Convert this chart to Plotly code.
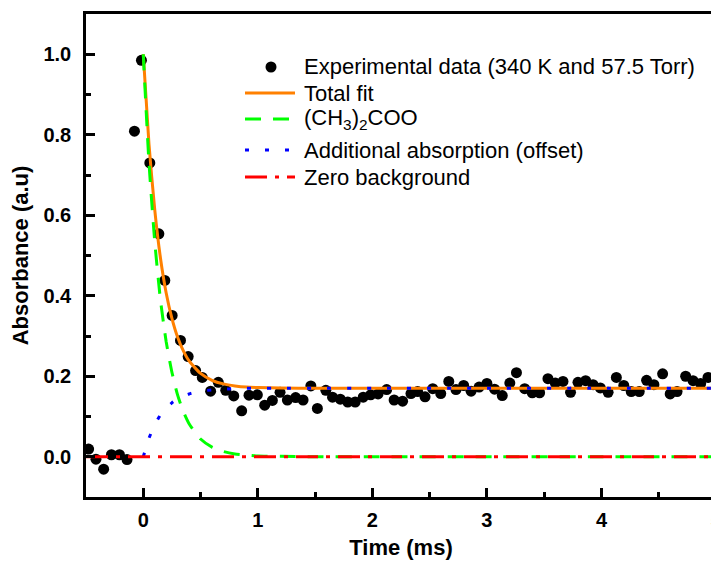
import plotly.graph_objects as go

# experimental points (time in ms, absorbance)
exp_time = [-0.477, -0.413, -0.346, -0.278, -0.208, -0.142, -0.077, -0.016,
            0.057, 0.136, 0.188, 0.252, 0.325, 0.392, 0.457, 0.515, 0.588,
            0.655, 0.72, 0.79, 0.859, 0.923, 0.996, 1.06, 1.127, 1.194,
            1.258, 1.33, 1.395, 1.463, 1.52, 1.594, 1.652, 1.72, 1.785,
            1.85, 1.92, 1.985, 2.05, 2.125, 2.19, 2.264, 2.337, 2.395, 2.46,
            2.527, 2.597, 2.667, 2.73, 2.797, 2.862, 2.932, 3.0, 3.067,
            3.134, 3.2, 3.258, 3.33, 3.396, 3.46, 3.533, 3.597, 3.664, 3.73,
            3.795, 3.862, 3.927, 3.99, 4.058, 4.13, 4.195, 4.26, 4.33, 4.394,
            4.458, 4.534, 4.6, 4.66, 4.735, 4.8, 4.866, 4.93, 4.99]
exp_abs = [0.019, -0.006, -0.031, 0.005, 0.005, -0.007, 0.809, 0.985,
           0.73, 0.554, 0.438, 0.351, 0.289, 0.249, 0.214, 0.197, 0.163,
           0.185, 0.165, 0.151, 0.114, 0.153, 0.154, 0.128, 0.14, 0.16,
           0.141, 0.147, 0.141, 0.176, 0.12, 0.165, 0.148, 0.143, 0.136,
           0.136, 0.148, 0.154, 0.156, 0.167, 0.141, 0.138, 0.157, 0.162, 0.149,
           0.169, 0.157, 0.187, 0.167, 0.177, 0.163, 0.173, 0.182, 0.168,
           0.152, 0.183, 0.209, 0.169, 0.159, 0.159, 0.194, 0.183, 0.187, 0.16,
           0.185, 0.189, 0.179, 0.171, 0.16, 0.197, 0.177, 0.162, 0.162, 0.19,
           0.179, 0.206, 0.156, 0.162, 0.2, 0.189, 0.182, 0.197, 0.195]

# fitted curves
fit_time = [0, 0.05, 0.1, 0.15, 0.2, 0.25, 0.3, 0.35, 0.4, 0.5, 0.6, 0.7,
            0.8, 0.9, 1.0, 1.2, 1.5, 2, 3, 4, 5]
total_fit = [1.0, 0.776, 0.614, 0.494, 0.407, 0.344, 0.297, 0.263, 0.238,
             0.207, 0.19, 0.181, 0.176, 0.173, 0.172, 0.171, 0.17, 0.17,
             0.17, 0.17, 0.17]
criegee = [1.0, 0.73, 0.535, 0.39, 0.286, 0.21, 0.153, 0.112, 0.082, 0.044,
           0.024, 0.013, 0.007, 0.004, 0.002, 0.001, 0, 0, 0, 0, 0]
offset = [0, 0.046, 0.079, 0.104, 0.121, 0.134, 0.144, 0.151, 0.156, 0.163,
          0.166, 0.168, 0.169, 0.17, 0.17, 0.17, 0.17, 0.17, 0.17, 0.17, 0.17]
zero_time = [-0.5, 5]
zero_abs = [0, 0]

# page body has an 8px margin, so the figure is a bit smaller than the window
W, H = 711, 556
ML, MR, MT, MB = 78, 3, 6, 67
PW, PH = W - ML - MR, H - MT - MB


def px_x(x):
    # window pixel -> paper fraction
    return (x - 8 - ML) / PW


def px_y(y):
    return 1 - (y - 8 - MT) / PH


styles = {
    "exp": dict(color="black", size=11),
    "total": dict(color="#FF8000", width=3),
    "crieg": dict(color="#00FF00", width=3, dash="16px,12px"),
    "offset": dict(color="#0000FF", width=3, dash="4px,16px"),
    "zero": dict(color="#FF0000", width=3, dash="22px,8px,4px,8px"),
}

fig = go.Figure()

fig.add_trace(go.Scatter(
    x=exp_time, y=exp_abs, mode="markers",
    name="Experimental data (340 K and 57.5 Torr)", marker=styles["exp"],
))
fig.add_trace(go.Scatter(
    x=fit_time, y=total_fit, mode="lines", name="Total fit",
    line=dict(**styles["total"], shape="spline", smoothing=0.6),
))
fig.add_trace(go.Scatter(
    x=fit_time, y=criegee, mode="lines", name="(CH<sub>3</sub>)<sub>2</sub>COO",
    line=dict(**styles["crieg"], shape="spline", smoothing=0.6),
))
fig.add_trace(go.Scatter(
    x=fit_time, y=offset, mode="lines", name="Additional absorption (offset)",
    line=dict(**styles["offset"], shape="spline", smoothing=0.6),
))
fig.add_trace(go.Scatter(
    x=zero_time, y=zero_abs, mode="lines", name="Zero background",
    line=styles["zero"],
))

# hand-made legend (longer sample lines than plotly's own legend)
legend_rows = [
    ("exp", "Experimental data (340 K and 57.5 Torr)", 67),
    ("total", "Total fit", 93),
    ("crieg", "(CH<sub>3</sub>)<sub>2</sub>COO", 119),
    ("offset", "Additional absorption (offset)", 150),
    ("zero", "Zero background", 177),
]
legend_font = dict(family="Liberation Sans", size=22, color="black")
for key, label, ypx in legend_rows:
    if key == "exp":
        fig.add_shape(
            type="circle", xref="paper", yref="paper",
            xsizemode="pixel", ysizemode="pixel",
            xanchor=px_x(271), yanchor=px_y(ypx),
            x0=-5.5, x1=5.5, y0=-5.5, y1=5.5,
            fillcolor="black", line=dict(width=0),
        )
    else:
        st = styles[key]
        fig.add_shape(
            type="line", xref="paper", yref="paper",
            x0=px_x(245), x1=px_x(295), y0=px_y(ypx), y1=px_y(ypx),
            line=dict(color=st["color"], width=st["width"], dash=st.get("dash", "solid")),
        )
    fig.add_annotation(
        x=px_x(302), y=px_y(ypx), xref="paper", yref="paper",
        text=label, showarrow=False, xanchor="left", yanchor="middle",
        font=legend_font,
    )

axis_font = dict(family="Liberation Sans", size=20, color="black", weight="bold")
title_font = dict(family="Liberation Sans", size=22, color="black", weight="bold")

fig.update_layout(
    width=W,
    height=H,
    margin=dict(l=ML, r=MR, t=MT, b=MB),
    plot_bgcolor="white",
    paper_bgcolor="white",
    font=dict(family="Liberation Sans", color="black"),
    showlegend=False,
    xaxis=dict(
        range=[-0.5, 5], tickvals=[0, 1, 2, 3, 4, 5],
        ticks="inside", ticklen=9, tickwidth=2.5, tickcolor="black",
        minor=dict(ticks="inside", ticklen=5, tickwidth=2.5,
                   tickcolor="black", dtick=0.5),
        showline=True, linewidth=2.5, linecolor="black", mirror=True,
        showgrid=False, zeroline=False, automargin=False,
        tickfont=axis_font, ticklabelstandoff=3, ticklabeloverflow="allow",
        title=dict(text="Time (ms)", font=title_font, standoff=10),
    ),
    yaxis=dict(
        range=[-0.1, 1.1], tickvals=[0, 0.2, 0.4, 0.6, 0.8, 1.0],
        tickformat=".1f",
        ticks="inside", ticklen=9, tickwidth=2.5, tickcolor="black",
        minor=dict(ticks="inside", ticklen=5, tickwidth=2.5,
                   tickcolor="black", dtick=0.1),
        showline=True, linewidth=2.5, linecolor="black", mirror=True,
        showgrid=False, zeroline=False, automargin=False,
        tickfont=axis_font, ticklabelstandoff=8,
        title=dict(text="Absorbance (a.u)", font=title_font, standoff=13),
    ),
)

fig.write_html("out.html")
